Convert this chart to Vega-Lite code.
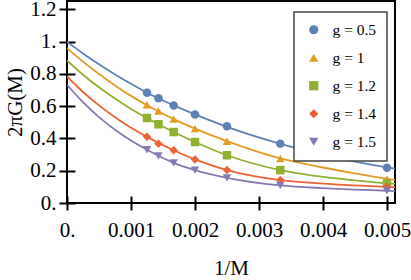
{
  "$schema": "https://vega.github.io/schema/vega-lite/v6.json",
  "width": 328,
  "height": 202,
  "autosize": {"type": "none"},
  "padding": {"left": 67, "top": 1, "right": 16, "bottom": 77},
  "background": "white",
  "datasets": {
    "curves": [
      {"x": 0, "y": 1.0, "g": "g = 0.5"}, {"x": 0.00025, "y": 0.927, "g": "g = 0.5"}, {"x": 0.0005, "y": 0.86, "g": "g = 0.5"}, {"x": 0.00075, "y": 0.797, "g": "g = 0.5"}, {"x": 0.001, "y": 0.739, "g": "g = 0.5"}, {"x": 0.00125, "y": 0.683, "g": "g = 0.5"}, {"x": 0.001667, "y": 0.605, "g": "g = 0.5"}, {"x": 0.002, "y": 0.549, "g": "g = 0.5"}, {"x": 0.0025, "y": 0.472, "g": "g = 0.5"}, {"x": 0.003333, "y": 0.367, "g": "g = 0.5"}, {"x": 0.004, "y": 0.299, "g": "g = 0.5"}, {"x": 0.0045, "y": 0.257, "g": "g = 0.5"}, {"x": 0.005, "y": 0.221, "g": "g = 0.5"}, {"x": 0.005125, "y": 0.213, "g": "g = 0.5"},
      {"x": 0, "y": 0.96, "g": "g = 1"}, {"x": 0.00025, "y": 0.876, "g": "g = 1"}, {"x": 0.0005, "y": 0.799, "g": "g = 1"}, {"x": 0.00075, "y": 0.729, "g": "g = 1"}, {"x": 0.001, "y": 0.664, "g": "g = 1"}, {"x": 0.00125, "y": 0.606, "g": "g = 1"}, {"x": 0.001667, "y": 0.52, "g": "g = 1"}, {"x": 0.002, "y": 0.461, "g": "g = 1"}, {"x": 0.0025, "y": 0.383, "g": "g = 1"}, {"x": 0.003333, "y": 0.276, "g": "g = 1"}, {"x": 0.004, "y": 0.22, "g": "g = 1"}, {"x": 0.0045, "y": 0.183, "g": "g = 1"}, {"x": 0.005, "y": 0.15, "g": "g = 1"}, {"x": 0.005125, "y": 0.143, "g": "g = 1"},
      {"x": 0, "y": 0.883, "g": "g = 1.2"}, {"x": 0.00025, "y": 0.795, "g": "g = 1.2"}, {"x": 0.0005, "y": 0.717, "g": "g = 1.2"}, {"x": 0.00075, "y": 0.647, "g": "g = 1.2"}, {"x": 0.001, "y": 0.583, "g": "g = 1.2"}, {"x": 0.00125, "y": 0.527, "g": "g = 1.2"}, {"x": 0.001667, "y": 0.44, "g": "g = 1.2"}, {"x": 0.002, "y": 0.378, "g": "g = 1.2"}, {"x": 0.0025, "y": 0.296, "g": "g = 1.2"}, {"x": 0.003333, "y": 0.204, "g": "g = 1.2"}, {"x": 0.004, "y": 0.162, "g": "g = 1.2"}, {"x": 0.0045, "y": 0.14, "g": "g = 1.2"}, {"x": 0.005, "y": 0.122, "g": "g = 1.2"}, {"x": 0.005125, "y": 0.118, "g": "g = 1.2"},
      {"x": 0, "y": 0.784, "g": "g = 1.4"}, {"x": 0.00025, "y": 0.688, "g": "g = 1.4"}, {"x": 0.0005, "y": 0.605, "g": "g = 1.4"}, {"x": 0.00075, "y": 0.531, "g": "g = 1.4"}, {"x": 0.001, "y": 0.466, "g": "g = 1.4"}, {"x": 0.00125, "y": 0.41, "g": "g = 1.4"}, {"x": 0.001667, "y": 0.327, "g": "g = 1.4"}, {"x": 0.002, "y": 0.27, "g": "g = 1.4"}, {"x": 0.0025, "y": 0.204, "g": "g = 1.4"}, {"x": 0.003333, "y": 0.142, "g": "g = 1.4"}, {"x": 0.004, "y": 0.12, "g": "g = 1.4"}, {"x": 0.0045, "y": 0.109, "g": "g = 1.4"}, {"x": 0.005, "y": 0.1, "g": "g = 1.4"}, {"x": 0.005125, "y": 0.098, "g": "g = 1.4"},
      {"x": 0, "y": 0.733, "g": "g = 1.5"}, {"x": 0.00025, "y": 0.625, "g": "g = 1.5"}, {"x": 0.0005, "y": 0.532, "g": "g = 1.5"}, {"x": 0.00075, "y": 0.454, "g": "g = 1.5"}, {"x": 0.001, "y": 0.387, "g": "g = 1.5"}, {"x": 0.00125, "y": 0.33, "g": "g = 1.5"}, {"x": 0.001667, "y": 0.249, "g": "g = 1.5"}, {"x": 0.002, "y": 0.204, "g": "g = 1.5"}, {"x": 0.0025, "y": 0.156, "g": "g = 1.5"}, {"x": 0.003333, "y": 0.109, "g": "g = 1.5"}, {"x": 0.004, "y": 0.092, "g": "g = 1.5"}, {"x": 0.0045, "y": 0.083, "g": "g = 1.5"}, {"x": 0.005, "y": 0.076, "g": "g = 1.5"}, {"x": 0.005125, "y": 0.074, "g": "g = 1.5"}
    ],
    "pts": [
      {"x": 0.00125, "y": 0.683, "g": "g = 0.5"}, {"x": 0.001429, "y": 0.65, "g": "g = 0.5"}, {"x": 0.001667, "y": 0.605, "g": "g = 0.5"}, {"x": 0.002, "y": 0.549, "g": "g = 0.5"}, {"x": 0.0025, "y": 0.475, "g": "g = 0.5"}, {"x": 0.003333, "y": 0.368, "g": "g = 0.5"}, {"x": 0.005, "y": 0.218, "g": "g = 0.5"},
      {"x": 0.00125, "y": 0.609, "g": "g = 1"}, {"x": 0.001429, "y": 0.57, "g": "g = 1"}, {"x": 0.001667, "y": 0.52, "g": "g = 1"}, {"x": 0.002, "y": 0.461, "g": "g = 1"}, {"x": 0.0025, "y": 0.383, "g": "g = 1"}, {"x": 0.003333, "y": 0.276, "g": "g = 1"}, {"x": 0.005, "y": 0.148, "g": "g = 1"},
      {"x": 0.00125, "y": 0.527, "g": "g = 1.2"}, {"x": 0.001429, "y": 0.488, "g": "g = 1.2"}, {"x": 0.001667, "y": 0.44, "g": "g = 1.2"}, {"x": 0.002, "y": 0.378, "g": "g = 1.2"}, {"x": 0.0025, "y": 0.296, "g": "g = 1.2"}, {"x": 0.003333, "y": 0.204, "g": "g = 1.2"}, {"x": 0.005, "y": 0.121, "g": "g = 1.2"},
      {"x": 0.00125, "y": 0.41, "g": "g = 1.4"}, {"x": 0.001429, "y": 0.368, "g": "g = 1.4"}, {"x": 0.001667, "y": 0.327, "g": "g = 1.4"}, {"x": 0.002, "y": 0.27, "g": "g = 1.4"}, {"x": 0.0025, "y": 0.204, "g": "g = 1.4"}, {"x": 0.003333, "y": 0.142, "g": "g = 1.4"}, {"x": 0.005, "y": 0.1, "g": "g = 1.4"},
      {"x": 0.00125, "y": 0.33, "g": "g = 1.5"}, {"x": 0.001429, "y": 0.292, "g": "g = 1.5"}, {"x": 0.001667, "y": 0.249, "g": "g = 1.5"}, {"x": 0.002, "y": 0.204, "g": "g = 1.5"}, {"x": 0.0025, "y": 0.156, "g": "g = 1.5"}, {"x": 0.003333, "y": 0.109, "g": "g = 1.5"}, {"x": 0.005, "y": 0.076, "g": "g = 1.5"}
    ]
  },
  "encoding": {
    "x": {
      "field": "x", "type": "quantitative",
      "scale": {"domain": [0, 0.005125], "nice": false, "zero": false},
      "axis": {
        "title": "1/M", "values": [0, 0.001, 0.002, 0.003, 0.004, 0.005],
        "labelExpr": "datum.value == 0 ? '0.' : format(datum.value, '.3f')",
        "labelFlush": false, "labelOverlap": false,
        "offset": -7, "tickSize": 14, "labelPadding": 9, "titlePadding": 17
      }
    },
    "y": {
      "field": "y", "type": "quantitative",
      "scale": {"domain": [0, 1.252], "nice": false},
      "axis": {
        "title": "2πG(M)", "values": [0, 0.2, 0.4, 0.6, 0.8, 1.0, 1.2],
        "labelExpr": "datum.value == 0 ? '0.' : datum.value == 1 ? '1.' : format(datum.value, '.1f')",
        "labelFlush": false, "labelOverlap": false,
        "offset": -8, "tickSize": 16, "labelPadding": 3, "titlePadding": 4
      }
    },
    "color": {
      "field": "g", "type": "nominal",
      "scale": {"domain": ["g = 0.5", "g = 1", "g = 1.2", "g = 1.4", "g = 1.5"], "range": ["#5e81b5", "#e19c24", "#8fb032", "#eb6235", "#8778b3"]},
      "legend": {
        "title": null, "orient": "none", "legendX": 227, "legendY": 11,
        "strokeColor": "#444", "fillColor": "white",
        "padding": 10, "rowPadding": 11, "symbolSize": 85, "symbolOffset": 2,
        "labelFont": "Liberation Serif", "labelFontSize": 15.5, "labelColor": "black", "labelOffset": 11,
        "symbolType": "circle", "symbolFillColor": "black", "symbolStrokeWidth": 0
      }
    }
  },
  "layer": [
    {
      "data": {"name": "curves"},
      "mark": {"type": "line", "interpolate": "monotone", "strokeWidth": 1.8, "clip": true}
    },
    {
      "data": {"name": "pts"},
      "mark": {"type": "point", "filled": true, "opacity": 1, "size": 72},
      "encoding": {
        "shape": {
          "field": "g", "type": "nominal",
          "scale": {"domain": ["g = 0.5", "g = 1", "g = 1.2", "g = 1.4", "g = 1.5"], "range": ["circle", "triangle-up", "square", "diamond", "triangle-down"]},
          "legend": {"title": null, "orient": "none", "legendX": 227, "legendY": 11}
        }
      }
    }
  ],
  "config": {
    "font": "Liberation Serif",
    "view": {"stroke": "black", "strokeWidth": 2},
    "axis": {
      "domain": false, "grid": false, "tickColor": "black", "tickWidth": 2,
      "labelColor": "black", "labelFont": "Liberation Serif", "labelFontSize": 21,
      "titleColor": "black", "titleFont": "Liberation Serif", "titleFontSize": 21, "titleFontWeight": "normal"
    },
    "legend": {"strokeWidth": 1.5}
  }
}
